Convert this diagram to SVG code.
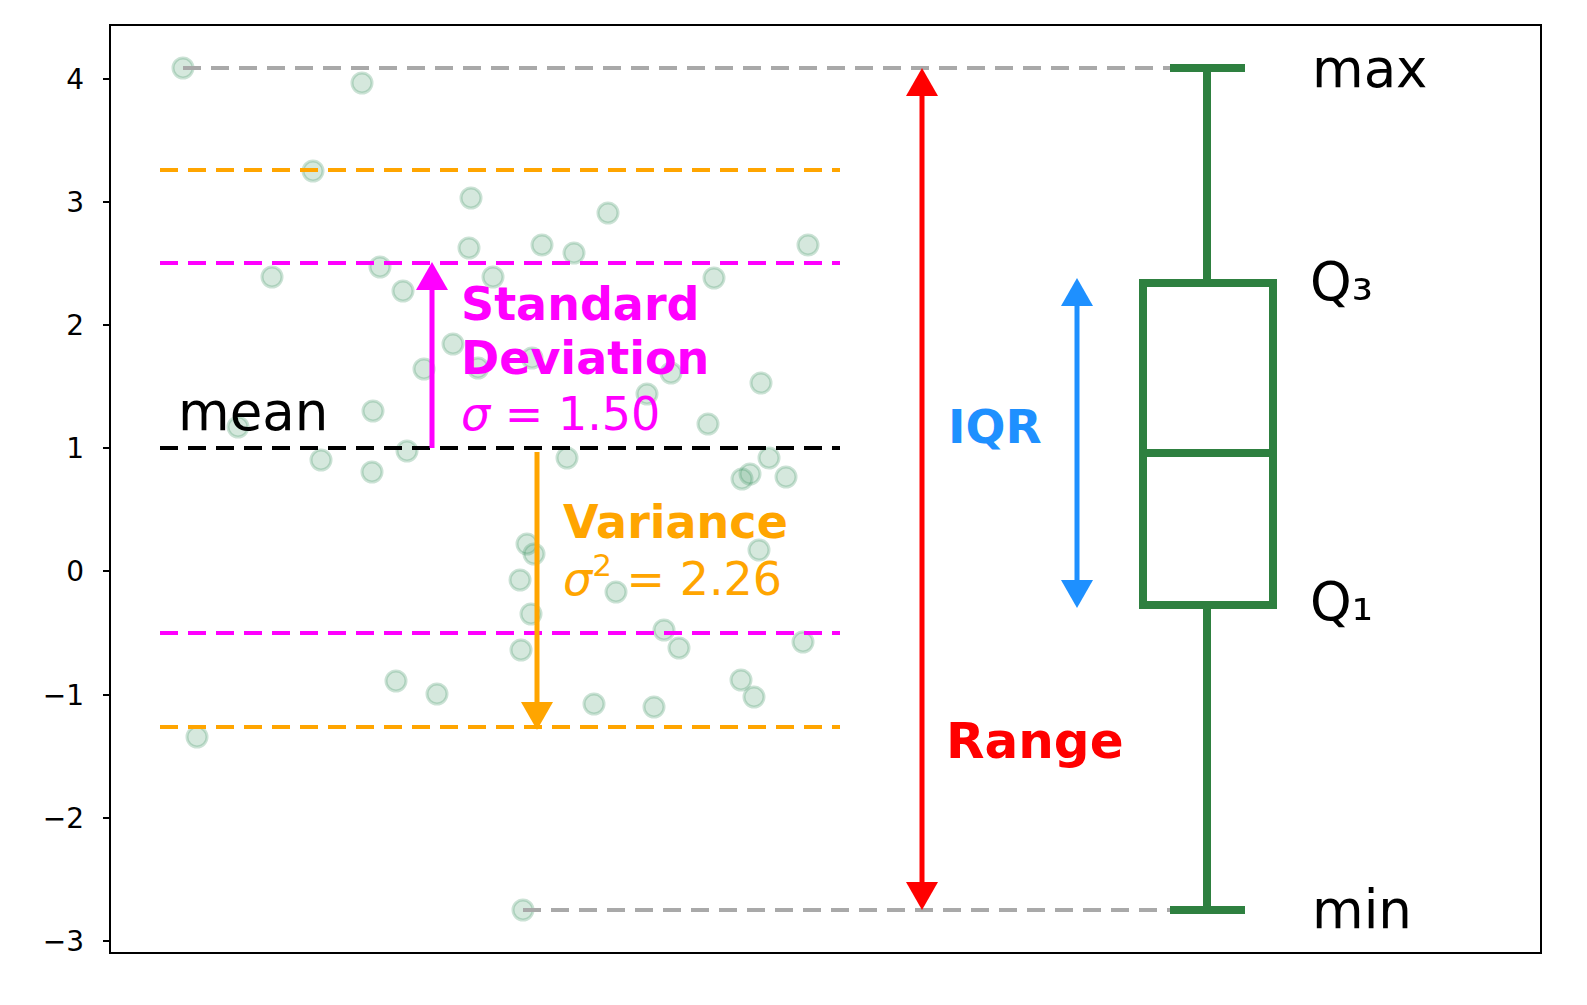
<svg xmlns="http://www.w3.org/2000/svg" width="1587" height="1005" viewBox="0 0 1587 1005">
<defs>
<style>
text{font-family:"DejaVu Sans","Liberation Sans",sans-serif}
.pt{fill:#2e8b57;fill-opacity:0.2;stroke:#2e8b57;stroke-opacity:0.25;stroke-width:3}
.d{stroke-width:4;stroke-dasharray:18,10;fill:none}
.tk{font-size:28px;text-anchor:end}
.lb{font-size:53px}
</style>
</defs>
<rect x="0" y="0" width="1587" height="1005" fill="#fff"/>
<rect x="110" y="25" width="1431" height="928" fill="none" stroke="#000" stroke-width="2"/>
<g id="axis" stroke="#000" stroke-width="2">
<line x1="103" y1="79" x2="110" y2="79"/><line x1="103" y1="202" x2="110" y2="202"/><line x1="103" y1="325" x2="110" y2="325"/><line x1="103" y1="448" x2="110" y2="448"/><line x1="103" y1="571" x2="110" y2="571"/><line x1="103" y1="695" x2="110" y2="695"/><line x1="103" y1="818" x2="110" y2="818"/><line x1="103" y1="941" x2="110" y2="941"/>
</g>
<g id="ticks">
<text class="tk" x="84" y="89">4</text><text class="tk" x="84" y="212">3</text><text class="tk" x="84" y="335">2</text><text class="tk" x="84" y="458">1</text><text class="tk" x="84" y="581">0</text><text class="tk" x="84" y="705">−1</text><text class="tk" x="84" y="828">−2</text><text class="tk" x="84" y="951">−3</text>
</g>
<g id="points">
<circle class="pt" cx="183" cy="68" r="10"/><circle class="pt" cx="362" cy="83" r="10"/><circle class="pt" cx="313" cy="171" r="10"/><circle class="pt" cx="471" cy="198" r="10"/><circle class="pt" cx="608" cy="213" r="10"/><circle class="pt" cx="469" cy="248" r="10"/><circle class="pt" cx="542" cy="245" r="10"/><circle class="pt" cx="574" cy="253" r="10"/><circle class="pt" cx="808" cy="245" r="10"/><circle class="pt" cx="272" cy="277" r="10"/><circle class="pt" cx="380" cy="267" r="10"/><circle class="pt" cx="403" cy="291" r="10"/><circle class="pt" cx="493" cy="277" r="10"/><circle class="pt" cx="714" cy="278" r="10"/><circle class="pt" cx="453" cy="344" r="10"/><circle class="pt" cx="424" cy="369" r="10"/><circle class="pt" cx="478" cy="368" r="10"/><circle class="pt" cx="532" cy="358" r="10"/><circle class="pt" cx="647" cy="394" r="10"/><circle class="pt" cx="671" cy="373" r="10"/><circle class="pt" cx="761" cy="383" r="10"/><circle class="pt" cx="373" cy="411" r="10"/><circle class="pt" cx="238" cy="427" r="10"/><circle class="pt" cx="708" cy="424" r="10"/><circle class="pt" cx="321" cy="460" r="10"/><circle class="pt" cx="372" cy="472" r="10"/><circle class="pt" cx="407" cy="451" r="10"/><circle class="pt" cx="567" cy="458" r="10"/><circle class="pt" cx="742" cy="479" r="10"/><circle class="pt" cx="750" cy="474" r="10"/><circle class="pt" cx="769" cy="458" r="10"/><circle class="pt" cx="786" cy="477" r="10"/><circle class="pt" cx="616" cy="592" r="10"/><circle class="pt" cx="527" cy="544" r="10"/><circle class="pt" cx="534" cy="554" r="10"/><circle class="pt" cx="759" cy="550" r="10"/><circle class="pt" cx="520" cy="580" r="10"/><circle class="pt" cx="531" cy="614" r="10"/><circle class="pt" cx="664" cy="630" r="10"/><circle class="pt" cx="679" cy="648" r="10"/><circle class="pt" cx="803" cy="642" r="10"/><circle class="pt" cx="521" cy="650" r="10"/><circle class="pt" cx="396" cy="681" r="10"/><circle class="pt" cx="437" cy="694" r="10"/><circle class="pt" cx="594" cy="704" r="10"/><circle class="pt" cx="654" cy="707" r="10"/><circle class="pt" cx="741" cy="680" r="10"/><circle class="pt" cx="754" cy="697" r="10"/><circle class="pt" cx="197" cy="737" r="10"/><circle class="pt" cx="523" cy="910" r="10"/>
</g>
<g id="connectors">
<line class="d" x1="183" y1="68" x2="1207" y2="68" stroke="#a9a9a9"/>
<line class="d" x1="523" y1="910" x2="1207" y2="910" stroke="#a9a9a9"/>
<line class="d" x1="160" y1="170" x2="840" y2="170" stroke="#ffa500"/>
<line class="d" x1="160" y1="727" x2="840" y2="727" stroke="#ffa500"/>
<line class="d" x1="160" y1="263" x2="840" y2="263" stroke="#ff00ff"/>
<line class="d" x1="160" y1="633" x2="840" y2="633" stroke="#ff00ff"/>
<line class="d" x1="160" y1="448" x2="840" y2="448" stroke="#000"/>
<line x1="432" y1="448" x2="432" y2="285" stroke="#ff00ff" stroke-width="5"/>
<polygon points="432,262 416,290 448,290" fill="#ff00ff"/>
<line x1="537" y1="452" x2="537" y2="708" stroke="#ffa500" stroke-width="5"/>
<polygon points="537,730 521,702 553,702" fill="#ffa500"/>
<line x1="922" y1="90" x2="922" y2="888" stroke="#ff0000" stroke-width="5"/>
<polygon points="922,68 906,96 938,96" fill="#ff0000"/>
<polygon points="922,910 906,882 938,882" fill="#ff0000"/>
<line x1="1077" y1="300" x2="1077" y2="586" stroke="#1e90ff" stroke-width="5"/>
<polygon points="1077,278 1061,306 1093,306" fill="#1e90ff"/>
<polygon points="1077,608 1061,580 1093,580" fill="#1e90ff"/>
</g>
<g id="boxplot" stroke="#2e8040" stroke-width="8" fill="none">
<line x1="1207" y1="68" x2="1207" y2="283"/>
<line x1="1207" y1="605" x2="1207" y2="910"/>
<line x1="1170" y1="68" x2="1245" y2="68"/>
<line x1="1170" y1="910" x2="1245" y2="910"/>
<rect x="1143" y="283" width="130" height="322"/>
<line x1="1143" y1="453" x2="1273" y2="453"/>
</g>
<g id="labels">
<text class="lb" x="178" y="430">mean</text>
<text class="lb" x="1312" y="87">max</text>
<text class="lb" x="1310" y="300">Q₃</text>
<text class="lb" x="1310" y="620">Q₁</text>
<text class="lb" x="1312" y="928">min</text>
<text x="461" y="320" font-size="46" font-weight="bold" fill="#ff00ff">Standard</text>
<text x="461" y="374" font-size="46" font-weight="bold" fill="#ff00ff">Deviation</text>
<text x="461" y="430" font-size="46" fill="#ff00ff"><tspan font-style="italic">σ</tspan> = 1.50</text>
<text x="563" y="538" font-size="46" font-weight="bold" fill="#ffa500">Variance</text>
<text x="563" y="595" font-size="46" fill="#ffa500"><tspan font-style="italic">σ</tspan><tspan dy="-19" font-size="31">2</tspan><tspan dy="19"> = 2.26</tspan></text>
<text x="948" y="443" font-size="47" font-weight="bold" fill="#1e90ff">IQR</text>
<text x="946" y="758" font-size="50" font-weight="bold" fill="#ff0000">Range</text>
</g>
</svg>
